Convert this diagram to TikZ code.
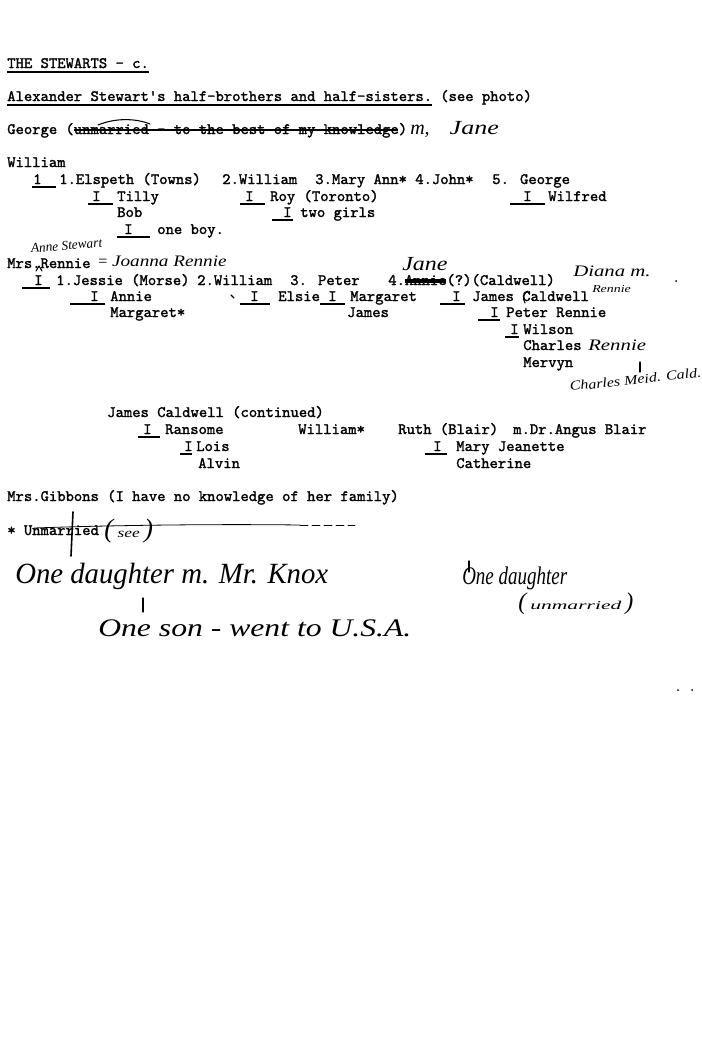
\documentclass[tikz,border=0pt]{standalone}
\usepackage{fontspec}
\newfontfamily\typefont{lmmono10-regular.otf}[FakeBold=1.6]
\newfontfamily\handfont{Liberation Serif}
\tikzset{
  tw/.style={font=\typefont\fontsize{11.9}{13}\selectfont, anchor=base west, inner sep=0pt},
  hw/.style={font=\handfont\itshape\fontsize{#1}{#1}\selectfont, anchor=base west, inner sep=0pt},
  rule/.style={line width=1pt},
  pen/.style={line width=0.8pt, line cap=round, line join=round}
}
\begin{document}
\begin{tikzpicture}[x=0.75pt,y=-0.75pt]
  \useasboundingbox[fill=white] (0,0) rectangle (702,1053);
  % heading lines
  \node[tw] (title) at (7,68) {\bfseries THE STEWARTS - c.};
  \draw[rule] ([shift={(0,4)}]title.base west) -- ([shift={(0,4)}]title.base east);
  \node[tw] (alex) at (7,101) {\bfseries Alexander Stewart's half-brothers and half-sisters.};
  \draw[rule] ([shift={(0,4)}]alex.base west) -- ([shift={(0,4)}]alex.base east);
  \node[tw] (photo) at (440,101) {\bfseries (see photo)};
  \node[tw] (george) at (7,134) {\bfseries George (unmarried - to the best of my knowledge)};
  \draw[rule] (74,130) -- (398,130);
  \draw[pen] (98,125) .. controls (115,118) and (135,118) .. (150,124);
  \node[hw=15] (mjane) at (410,134) {m,\quad\scalebox{1.3}[1]{Jane}};
  % William
  \node[tw] (william) at (7,167) {\bfseries William};
  \node[tw] (k1) at (33,184) {\bfseries 1};
  \node[tw] (elspeth) at (59,184) {\bfseries 1.Elspeth (Towns)};
  \node[tw] (wil2) at (222,184) {\bfseries 2.William};
  \node[tw] (mary) at (315,184) {\bfseries 3.Mary Ann*};
  \node[tw] (john) at (415,184) {\bfseries 4.John*};
  \node[tw] (geo5) at (492,184) {\bfseries 5. George};
  \draw[rule] ([shift={(-1,3)}]k1.base west) -- ([shift={(-3,3)}]elspeth.base west);
  \node[tw] (i1) at (92,201) {\bfseries I};
  \node[tw] (tilly) at (117,201) {\bfseries Tilly};
  \draw[rule] ([shift={(-4,3)}]i1.base west) -- ([shift={(-4,3)}]tilly.base west);
  \node[tw] (i2) at (245,201) {\bfseries I};
  \node[tw] (roy) at (270,201) {\bfseries Roy (Toronto)};
  \draw[rule] ([shift={(-5,3)}]i2.base west) -- ([shift={(-5,3)}]roy.base west);
  \node[tw] (i3) at (523,201) {\bfseries I};
  \node[tw] (wilfred) at (548,201) {\bfseries Wilfred};
  \draw[rule] ([shift={(-13,3)}]i3.base west) -- ([shift={(-3,3)}]wilfred.base west);
  \node[tw] (bob) at (117,217) {\bfseries Bob};
  \node[tw] (i4) at (283,217) {\bfseries I};
  \node[tw] (girls) at (300,217) {\bfseries two girls};
  \draw[rule] ([shift={(-11,3)}]i4.base west) -- ([shift={(-7,3)}]girls.base west);
  \node[tw] (i5) at (124,234) {\bfseries I};
  \node[tw] (boy) at (157,234) {\bfseries one boy.};
  \draw[rule] ([shift={(-7,3)}]i5.base west) -- ([shift={(-7,3)}]boy.base west);
  % Mrs. Rennie
  \node[tw] (mrs) at (7,268) {\bfseries Mrs.Rennie};
  \draw[pen] (36,271) -- (39,266) -- (42,271);
  \node[hw=10, rotate=5] (anne) at (31,253) {Anne Stewart};
  \node[hw=12] (joanna) at (97,266) {= \scalebox{1.2}[1]{Joanna Rennie}};
  \node[tw] (i6) at (34,285) {\bfseries I};
  \node[tw] (jessie) at (56,285) {\bfseries 1.Jessie (Morse)};
  \draw[rule] ([shift={(-12,3)}]i6.base west) -- ([shift={(-6,3)}]jessie.base west);
  \node[tw] (wil3) at (197,285) {\bfseries 2.William};
  \node[tw] (peter) at (290,285) {\bfseries 3. Peter};
  \node[tw] (annie) at (388,285) {\bfseries 4.Annie(?)(Caldwell)};
  \draw[line width=2.4pt] (405,281) -- (446,281);
  \node[hw=15] (jane) at (402,270) {\scalebox{1.2}[1]{Jane}};
  \node[hw=12] (diana) at (573,276) {\scalebox{1.3}[1]{Diana m.}};
  \node[hw=8] (renn1) at (592,292) {\scalebox{1.3}[1]{Rennie}};
  \node[tw] (i7) at (90,301) {\bfseries I};
  \node[tw] (annie2) at (110,301) {\bfseries Annie};
  \draw[rule] ([shift={(-20,3)}]i7.base west) -- ([shift={(-5,3)}]annie2.base west);
  \draw[pen] (231,295) -- (234,298);
  \node[tw] (i8) at (250,301) {\bfseries I};
  \node[tw] (elsie) at (278,301) {\bfseries Elsie};
  \draw[rule] ([shift={(-10,3)}]i8.base west) -- ([shift={(-8,3)}]elsie.base west);
  \node[tw] (i9) at (328,301) {\bfseries I};
  \node[tw] (margaret) at (350,301) {\bfseries Margaret};
  \draw[rule] ([shift={(-8,3)}]i9.base west) -- ([shift={(-5,3)}]margaret.base west);
  \node[tw] (i10) at (452,301) {\bfseries I};
  \node[tw] (james) at (472,301) {\bfseries James Caldwell};
  \draw[rule] ([shift={(-12,3)}]i10.base west) -- ([shift={(-7,3)}]james.base west);
  \draw[pen] (525,303) .. controls (522,298) and (524,293) .. (528,291);
  \node[tw] (marg2) at (110,317) {\bfseries Margaret*};
  \node[tw] (james2) at (347,317) {\bfseries James};
  \node[tw] (i11) at (490,317) {\bfseries I};
  \node[tw] (peterr) at (506,317) {\bfseries Peter Rennie};
  \draw[rule] ([shift={(-12,3)}]i11.base west) -- ([shift={(-6,3)}]peterr.base west);
  \node[tw] (i12) at (510,334) {\bfseries I};
  \node[tw] (wilson) at (523,334) {\bfseries Wilson};
  \draw[rule] ([shift={(-5,3)}]i12.base west) -- ([shift={(-4,3)}]wilson.base west);
  \node[tw] (charles) at (523,350) {\bfseries Charles};
  \node[hw=12] (renn2) at (588,350) {\scalebox{1.3}[1]{Rennie}};
  \node[tw] (mervyn) at (523,367) {\bfseries Mervyn};
  \draw[pen] (640,362) -- (640,372);
  \node[hw=10, rotate=6] (cmc) at (570,391) {\scalebox{1.2}[1]{Charles Meid. Cald.}};
  \fill (676,281) circle (1);
  % James Caldwell continued
  \node[tw] (jc) at (107,417) {\bfseries James Caldwell (continued)};
  \node[tw] (i13) at (143,434) {\bfseries I};
  \node[tw] (ransome) at (165,434) {\bfseries Ransome};
  \draw[rule] ([shift={(-5,3)}]i13.base west) -- ([shift={(-5,3)}]ransome.base west);
  \node[tw] (wil4) at (298,434) {\bfseries William*};
  \node[tw] (ruth) at (398,434) {\bfseries Ruth (Blair)};
  \node[tw] (angus) at (513,434) {\bfseries m.Dr.Angus Blair};
  \node[tw] (i14) at (184,451) {\bfseries I};
  \node[tw] (lois) at (196,451) {\bfseries Lois};
  \draw[rule] ([shift={(-4,3)}]i14.base west) -- ([shift={(-4,3)}]lois.base west);
  \node[tw] (i15) at (433,451) {\bfseries I};
  \node[tw] (maryj) at (456,451) {\bfseries Mary Jeanette};
  \draw[rule] ([shift={(-8,3)}]i15.base west) -- ([shift={(-9,3)}]maryj.base west);
  \node[tw] (alvin) at (198,468) {\bfseries Alvin};
  \node[tw] (cath) at (456,468) {\bfseries Catherine};
  % notes
  \node[tw] (gib) at (7,501) {\bfseries Mrs.Gibbons (I have no knowledge of her family)};
  \node[tw] (unm) at (7,535) {\bfseries * Unmarried};
  \draw[pen, line width=1.2pt] (73,512) -- (71,556);
  \node[hw=20] (see) at (104,537) {(\,{\fontsize{10}{10}\selectfont\scalebox{1.3}[1]{see}}\,)};
  \draw[pen, line width=0.6pt] (34,528) .. controls (120,525) and (220,524) .. (300,525);
  \draw[pen, line width=0.6pt, dash pattern=on 6pt off 3pt] (300,525) -- (355,525);
  \node[hw=22] (knox) at (15,583) {\scalebox{0.98}[1]{One daughter m. Mr. Knox}};
  \draw[pen] (143,598) -- (143,612);
  \node[hw=19] (son) at (98,636) {\scalebox{1.25}[1]{One son - went to U.S.A.}};
  \draw[pen] (469,561) -- (469,572);
  \node[hw=19] (dau) at (462,584) {\scalebox{0.75}[1]{One daughter}};
  \node[hw=18] (unmar) at (518,609) {(\,{\fontsize{9}{9}\selectfont\scalebox{1.8}[1]{unmarried}}\,)};
  \fill (678,690) circle (1) (692,690) circle (1);
\end{tikzpicture}
\end{document}
